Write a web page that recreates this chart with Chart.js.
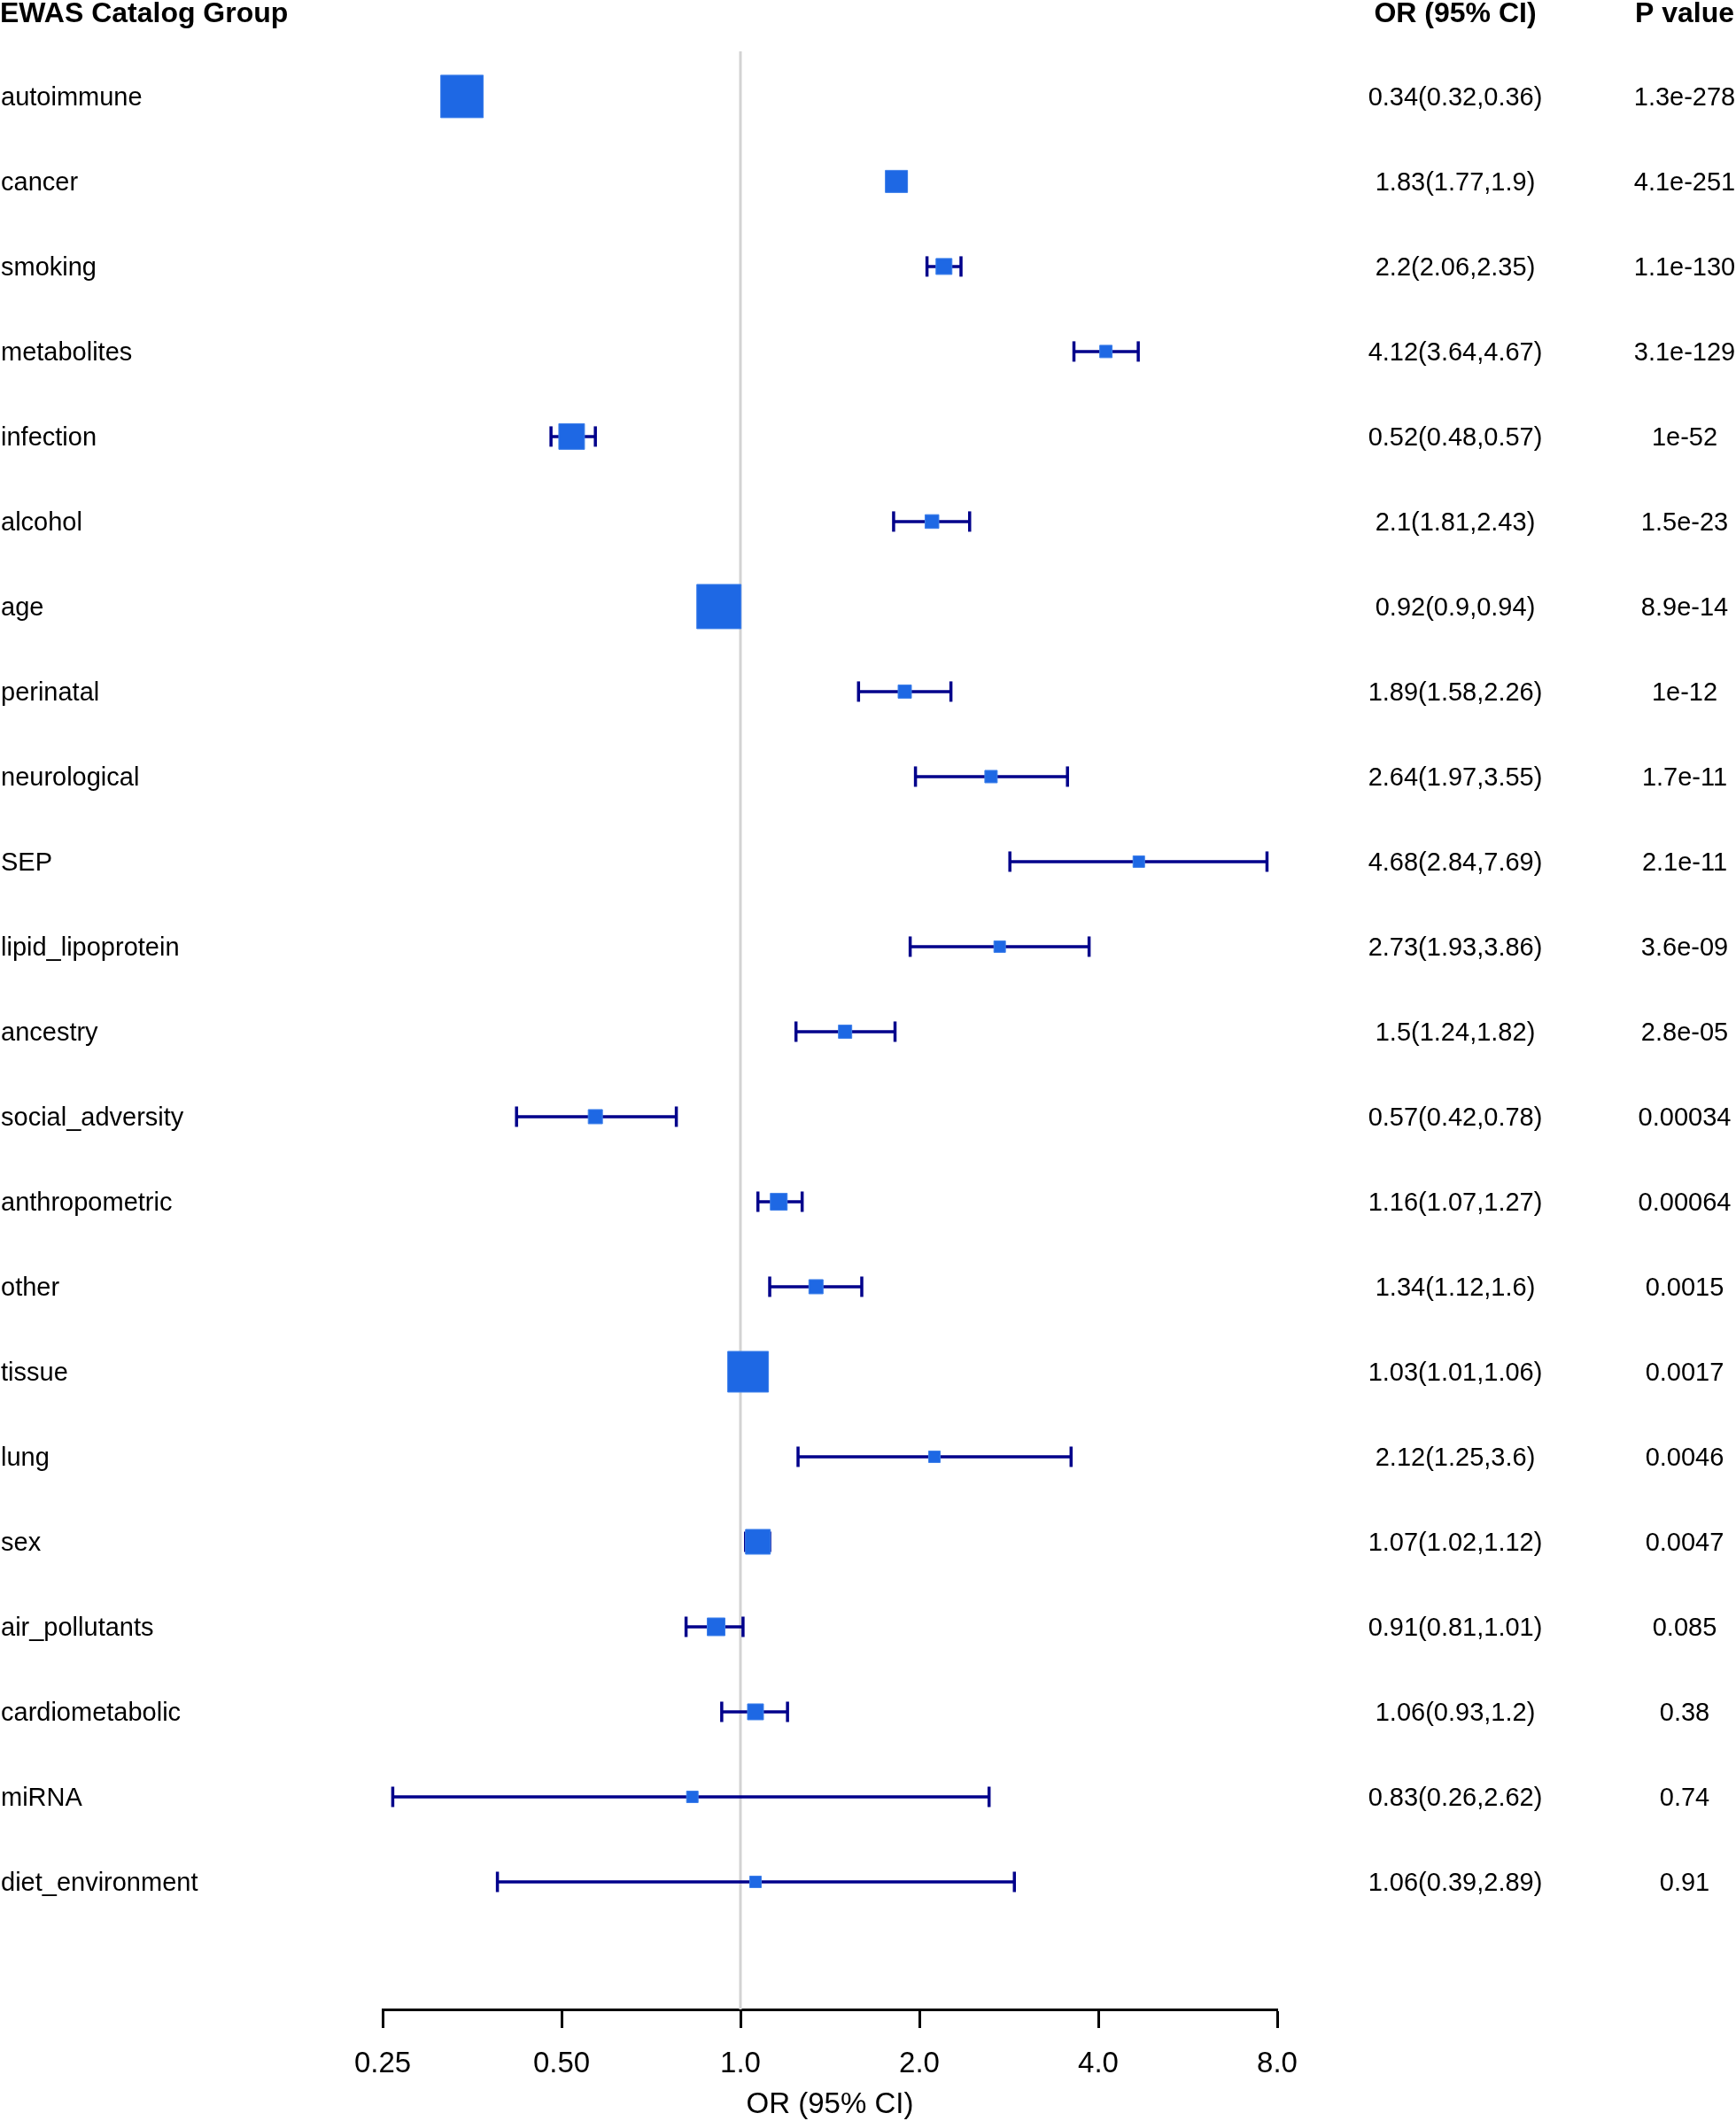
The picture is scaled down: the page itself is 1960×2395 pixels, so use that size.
<!DOCTYPE html>
<html>
<head>
<meta charset="utf-8">
<script src="https://cdn.jsdelivr.net/npm/chart.js@4.4.1/dist/chart.umd.min.js"></script>
<style>
  html, body { margin: 0; padding: 0; background: #fff; }
  #wrap { width: 1960px; height: 2395px; }
</style>
</head>
<body>
<div id="wrap"><canvas id="grafico" width="1960" height="2395"></canvas></div>
<script>
const categories = ['autoimmune', 'cancer', 'smoking', 'metabolites', 'infection', 'alcohol', 'age', 'perinatal',
    'neurological', 'SEP', 'lipid_lipoprotein', 'ancestry', 'social_adversity', 'anthropometric', 'other',
    'tissue', 'lung', 'sex', 'air_pollutants', 'cardiometabolic', 'miRNA', 'diet_environment'];
const oddsRatio = [0.34, 1.83, 2.2, 4.12, 0.52, 2.1, 0.92, 1.89, 2.64, 4.68, 2.73, 1.5, 0.57, 1.16, 1.34, 1.03, 2.12, 1.07, 0.91, 1.06, 0.83, 1.06];
const ciLower = [0.32, 1.77, 2.06, 3.64, 0.48, 1.81, 0.9, 1.58, 1.97, 2.84, 1.93, 1.24, 0.42, 1.07, 1.12, 1.01, 1.25, 1.02, 0.81, 0.93, 0.26, 0.39];
const ciUpper = [0.36, 1.9, 2.35, 4.67, 0.57, 2.43, 0.94, 2.26, 3.55, 7.69, 3.86, 1.82, 0.78, 1.27, 1.6, 1.06, 3.6, 1.12, 1.01, 1.2, 2.62, 2.89];
const pValues = ['1.3e-278', '4.1e-251', '1.1e-130', '3.1e-129', '1e-52', '1.5e-23', '8.9e-14', '1e-12', '1.7e-11',
    '2.1e-11', '3.6e-09', '2.8e-05', '0.00034', '0.00064', '0.0015', '0.0017', '0.0046', '0.0047', '0.085', '0.38', '0.74', '0.91'];
// relative weight of each estimate (box size)
const weights = [0.96, 0.5, 0.36, 0.28, 0.58, 0.31, 1.0, 0.3, 0.28, 0.26, 0.26, 0.3, 0.32, 0.38, 0.32, 0.92, 0.26, 0.56, 0.4, 0.36, 0.26, 0.26];
const xTicks = [0.25, 0.5, 1, 2, 4, 8];
const xTickLabels = ['0.25', '0.50', '1.0', '2.0', '4.0', '8.0'];

const FONT = '"Liberation Sans", Arial, Helvetica, sans-serif';
const BOX_MAX = 50;
const Y_MIN = -0.53;
const Y_MAX = 22.5;

const erros = categories.map((c, i) => ({
    type: 'line',
    data: [{ x: ciLower[i], y: i }, { x: ciUpper[i], y: i }],
    borderColor: '#00008b',
    borderWidth: 3.5,
    pointStyle: 'line',
    pointRotation: 90,
    pointRadius: 11.5,
    pointBorderColor: '#00008b',
    pointBorderWidth: 3.5,
    order: 1
}));

const textos = {
    id: 'textos',
    afterDraw(chart) {
        const ctx = chart.ctx;
        const y = chart.scales.y;
        ctx.save();
        ctx.fillStyle = '#000';
        ctx.textBaseline = 'alphabetic';

        ctx.font = 'bold 32px ' + FONT;
        ctx.textAlign = 'left';
        ctx.fillText('EWAS Catalog Group', 0, 25);
        ctx.textAlign = 'center';
        ctx.fillText('OR (95% CI)', 1643, 25);
        ctx.fillText('P value', 1902, 25);

        ctx.font = '29px ' + FONT;
        categories.forEach((c, i) => {
            const py = y.getPixelForValue(i) + 10.5;
            ctx.textAlign = 'left';
            ctx.fillText(c, 1, py);
            ctx.textAlign = 'center';
            ctx.fillText(`${oddsRatio[i]}(${ciLower[i]},${ciUpper[i]})`, 1643, py);
            ctx.fillText(pValues[i], 1902, py);
        });
        ctx.restore();
    }
};

new Chart(document.getElementById('grafico'), {
    type: 'scatter',
    data: {
        datasets: [
            {
                data: categories.map((c, i) => ({ x: oddsRatio[i], y: i })),
                pointStyle: 'rect',
                pointRadius: ctx => weights[ctx.dataIndex] * BOX_MAX / Math.SQRT2,
                pointHoverRadius: ctx => weights[ctx.dataIndex] * BOX_MAX / Math.SQRT2,
                pointBackgroundColor: '#1e68e4',
                pointBorderColor: '#3f80ea',
                pointBorderWidth: 1,
                order: 0
            },
            ...erros,
            {
                type: 'line',
                data: [{ x: 1, y: Y_MIN }, { x: 1, y: Y_MAX }],
                borderColor: '#d3d3d3',
                borderWidth: 3,
                pointRadius: 0,
                order: 2
            }
        ]
    },
    options: {
        responsive: false,
        animation: false,
        devicePixelRatio: 1,
        layout: { padding: { left: 432, right: 518, top: 58, bottom: 14 } },
        plugins: { legend: { display: false }, tooltip: { enabled: false } },
        scales: {
            x: {
                type: 'logarithmic',
                min: 0.25,
                max: 8,
                afterBuildTicks: axis => { axis.ticks = xTicks.map(v => ({ value: v })); },
                ticks: {
                    autoSkip: false,
                    maxRotation: 0,
                    padding: 21.2,
                    color: '#000',
                    font: { family: FONT, size: 33, lineHeight: 1.2 },
                    callback: (v) => xTickLabels[xTicks.indexOf(v)]
                },
                grid: { drawOnChartArea: false, drawTicks: true, tickLength: 21, tickWidth: 3, tickColor: '#000' },
                border: { display: true, color: '#000', width: 3 },
                title: {
                    display: true,
                    text: 'OR (95% CI)',
                    color: '#000',
                    font: { family: FONT, size: 33, lineHeight: '9px' },
                    padding: { top: 0, bottom: 0 }
                }
            },
            y: {
                type: 'linear',
                reverse: true,
                min: Y_MIN,
                max: Y_MAX,
                display: false
            }
        }
    },
    plugins: [textos]
});
</script>
</body>
</html>
